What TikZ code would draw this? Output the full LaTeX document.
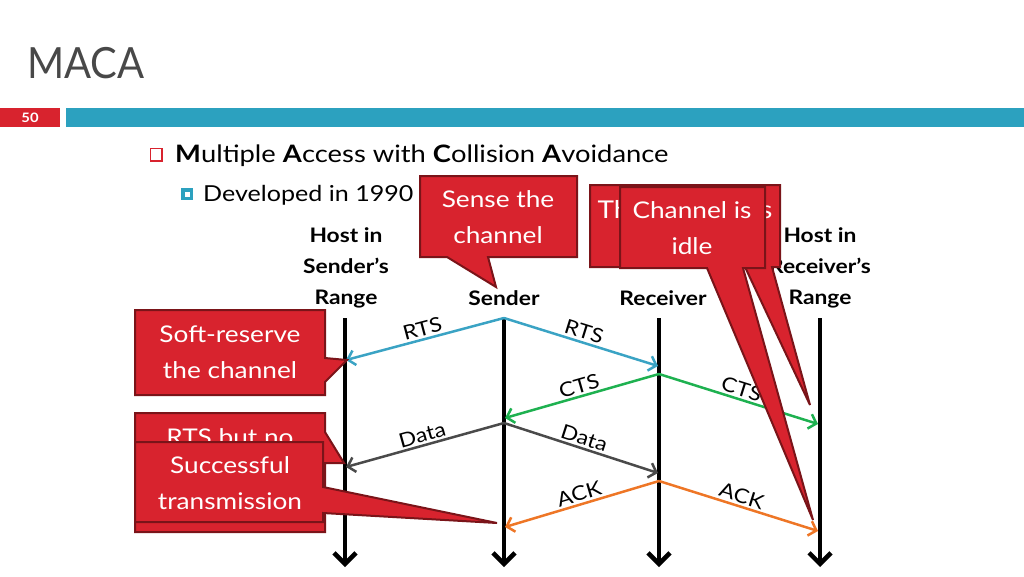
\documentclass[tikz,border=0pt]{standalone}
\usepackage{fontspec}
\setmainfont{Lato}[FakeStretch=1.14]
\newfontfamily\titlefont{Lato}[FakeStretch=0.93]
\usetikzlibrary{arrows.meta}
\definecolor{slidered}{HTML}{D8232E}
\definecolor{callborder}{HTML}{7A1419}
\definecolor{barblue}{HTML}{2CA1BF}
\definecolor{titlegray}{HTML}{484848}
\definecolor{rtsblue}{HTML}{3AA3C4}
\definecolor{ctsgreen}{HTML}{1EB150}
\definecolor{datagray}{HTML}{4A4A4A}
\definecolor{ackorange}{HTML}{EE7626}

\begin{document}
\begin{tikzpicture}[x=1pt, y=-1pt,
    callout/.style={fill=slidered, draw=callborder, line width=2pt, line join=miter},
    calltext/.style={text=white, align=center, inner sep=0, font=\fontsize{23}{36}\selectfont},
    host/.style={align=center, inner sep=0, font=\fontsize{20}{31}\selectfont\bfseries},
    timeline/.style={line width=4.5pt, -{Straight Barb[length=11pt,width=22pt]}},
    msg/.style={line width=2.5pt, -{Straight Barb[length=7pt,width=15pt]}},
    msglbl/.style={font=\fontsize{20}{20}\selectfont, sloped, above, inner sep=2pt}]
    \useasboundingbox (0,0) rectangle (1024,576);

    % slide header
    \node[anchor=base west, inner sep=0, text=titlegray, font=\fontsize{43}{43}\titlefont] (title) at (27,78) {MACA};
    \fill[slidered] (0,108) rectangle (60,127);
    \node[text=white, inner sep=0, font=\fontsize{13}{13}\selectfont\bfseries] (slideno) at (30,117.5) {50};
    \fill[barblue] (66,108) rectangle (1024,127);

    % bullets
    \draw[slidered, line width=1.2pt] (150.5,148.5) rectangle (162,161);
    \node[anchor=base west, inner sep=0, font=\fontsize{24}{24}\selectfont] (maca) at (175,162)
        {\textbf{M}ultiple \textbf{A}ccess with \textbf{C}ollision \textbf{A}voidance};
    \fill[barblue] (181,188) rectangle (193,200);
    \fill[white] (184.5,191.5) rectangle (189.5,196.5);
    \node[anchor=base west, inner sep=0, font=\fontsize{22}{22}\selectfont] (year) at (203,201) {Developed in 1990};

    % hosts
    \node[host] (hs) at (346,268) {Host in\\Sender’s\\Range};
    \node[host] (snd) at (504,298) {Sender};
    \node[host] (rcv) at (663,298) {Receiver};
    \node[host] (hr) at (820,268) {Host in\\Receiver’s\\Range};

    \coordinate (hs top) at (345,318);  \coordinate (hs end) at (345,567);
    \coordinate (s top) at (504,318);   \coordinate (s end) at (504,567);
    \coordinate (r top) at (659,318);   \coordinate (r end) at (659,567);
    \coordinate (hr top) at (820,318);  \coordinate (hr end) at (820,567);

    \draw[timeline] (hs top) -- (hs end);
    \draw[timeline] (s top) -- (s end);
    \draw[timeline] (r top) -- (r end);
    \draw[timeline] (hr top) -- (hr end);

    % messages
    \coordinate (s rts) at (504,318);   \coordinate (hs rts) at (346,360);  \coordinate (r rts) at (658,366);
    \coordinate (r cts) at (659,374);   \coordinate (s cts) at (505,418);   \coordinate (hr cts) at (818,424);
    \coordinate (s data) at (504,423);  \coordinate (hs data) at (346,467); \coordinate (r data) at (658,473);
    \coordinate (r ack) at (659,481);   \coordinate (s ack) at (505,527);   \coordinate (hr ack) at (818,531);

    \draw[msg, rtsblue] (s rts) -- node[msglbl, text=black] {RTS} (hs rts);
    \draw[msg, rtsblue] (s rts) -- node[msglbl, text=black] {RTS} (r rts);
    \draw[msg, ctsgreen] (r cts) -- node[msglbl, text=black] {CTS} (s cts);
    \draw[msg, ctsgreen] (r cts) -- node[msglbl, text=black] {CTS} (hr cts);
    \draw[msg, datagray] (s data) -- node[msglbl, text=black] {Data} (hs data);
    \draw[msg, datagray] (s data) -- node[msglbl, text=black] {Data} (r data);
    \draw[msg, ackorange] (r ack) -- node[msglbl, text=black] {ACK} (s ack);
    \draw[msg, ackorange] (r ack) -- node[msglbl, text=black] {ACK} (hr ack);

    % callouts
    \draw[callout] (420,176) -- (577,176) -- (577,257) -- (488,257) -- (496,287) -- (447,257) -- (420,257) -- cycle;
    \node[calltext] (sense) at (498,217) {Sense the\\channel};

    \draw[callout] (590,185) -- (780,185) -- (780,267) -- (772,267) -- (810,405) -- (745,267) -- (590,267) -- cycle;
    \node[calltext, font=\fontsize{24.5}{36}\selectfont] (busy) at (685,228) {The channel is\\reserved};

    \draw[callout] (620,187) -- (765,187) -- (765,268) -- (743,268) -- (813,520) -- (707,268) -- (620,268) -- cycle;
    \node[calltext] (idle) at (692,228) {Channel is\\idle};

    \draw[callout] (135,310) -- (325,310) -- (325,358) -- (347,360) -- (325,382) -- (325,395) -- (135,395) -- cycle;
    \node[calltext] (soft) at (230,352) {Soft-reserve\\the channel};

    \draw[callout] (135,413) -- (325,413) -- (325,432) -- (344,463) -- (325,463) -- (325,532) -- (135,532) -- cycle;
    \node[calltext] (nocts) at (230,455) {RTS but no\\CTS};

    \draw[callout] (135,442) -- (323,442) -- (323,487) -- (497,523) -- (323,513) -- (323,522) -- (135,522) -- cycle;
    \node[calltext] (done) at (230,483) {Successful\\transmission};
\end{tikzpicture}
\end{document}
